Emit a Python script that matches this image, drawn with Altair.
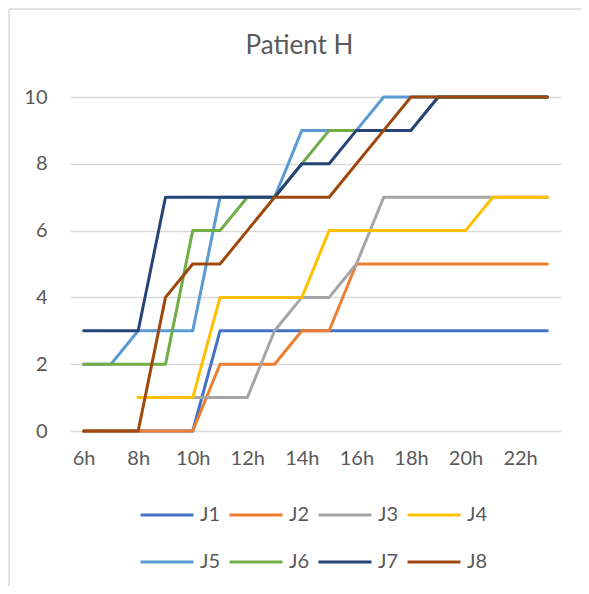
import altair as alt
import pandas as pd

hours = list(range(6, 24))
series_names = ["J1", "J2", "J3", "J4", "J5", "J6", "J7", "J8"]
J1 = [0, 0, 0, 0, 0, 3, 3, 3, 3, 3, 3, 3, 3, 3, 3, 3, 3, 3]
J2 = [0, 0, 0, 0, 0, 2, 2, 2, 3, 3, 5, 5, 5, 5, 5, 5, 5, 5]
J3 = [None, None, None, None, 1, 1, 1, 3, 4, 4, 5, 7, 7, 7, 7, 7, 7, 7]
J4 = [None, None, 1, 1, 1, 4, 4, 4, 4, 6, 6, 6, 6, 6, 6, 7, 7, 7]
J5 = [2, 2, 3, 3, 3, 7, 7, 7, 9, 9, 9, 10, 10, 10, 10, 10, 10, 10]
J6 = [2, 2, 2, 2, 6, 6, 7, 7, 8, 9, 9, 9, 9, 10, 10, 10, 10, 10]
J7 = [3, 3, 3, 7, 7, 7, 7, 7, 8, 8, 9, 9, 9, 10, 10, 10, 10, 10]
J8 = [0, 0, 0, 4, 5, 5, 6, 7, 7, 7, 8, 9, 10, 10, 10, 10, 10, 10]
colors = ["#4472C4", "#ED7D31", "#A5A5A5", "#FFC000",
          "#5B9BD5", "#70AD47", "#264478", "#9E480E"]
x_ticks = [6, 8, 10, 12, 14, 16, 18, 20, 22]
y_ticks = [0, 2, 4, 6, 8, 10]

all_series = [J1, J2, J3, J4, J5, J6, J7, J8]
rows = []
for order, (name, vals) in enumerate(zip(series_names, all_series)):
    for h, v in zip(hours, vals):
        if v is not None:
            rows.append({"hour": h, "value": v, "series": name, "ord": order})
df = pd.DataFrame(rows)

FONT = "Lato"
GREY = "#595959"

lines = alt.Chart(df).mark_line(strokeWidth=3, strokeCap="round", strokeJoin="round").encode(
    x=alt.X("hour:Q",
            scale=alt.Scale(domain=[5.5, 23.5], nice=False, zero=False),
            axis=alt.Axis(values=x_ticks, labelExpr="datum.value + 'h'", title=None,
                          grid=False, domain=False, ticks=False, labelPadding=17,
                          labelFontSize=20, labelFont=FONT, labelColor=GREY)),
    y=alt.Y("value:Q",
            scale=alt.Scale(domain=[0, 10], nice=False),
            axis=alt.Axis(values=y_ticks, title=None, domain=False, ticks=False,
                          grid=True, gridColor="#D9D9D9", gridWidth=1.5,
                          labelPadding=23, labelFontSize=20, labelFont=FONT,
                          labelColor=GREY)),
    color=alt.Color("series:N",
                    scale=alt.Scale(domain=series_names, range=colors),
                    legend=alt.Legend(orient="none", legendX=69, legendY=408,
                                      columns=4, direction="horizontal", title=None,
                                      symbolType="stroke", symbolSize=2809,
                                      symbolStrokeWidth=3, clipHeight=20,
                                      rowPadding=27, columnPadding=7, labelOffset=5,
                                      labelFontSize=20, labelFont=FONT,
                                      labelColor=GREY, padding=0)),
    order=alt.Order("ord:Q"),
    detail="series:N",
)

one = pd.DataFrame({"k": [0]})
border_top = alt.Chart(one).mark_rule(color="#D9D9D9", strokeWidth=1.5).encode(
    x=alt.value(-61), x2=alt.value(700), y=alt.value(-88)
)
border_left = alt.Chart(one).mark_rule(color="#D9D9D9", strokeWidth=1.5).encode(
    x=alt.value(-61), y=alt.value(-88), y2=alt.value(700)
)

chart = alt.layer(border_top, border_left, lines).properties(
    width=491, height=334,
    title=alt.TitleParams("Patient H", fontSize=26, font=FONT, fontWeight="normal",
                          color=GREY, anchor="middle", frame="group", dx=-16,
                          offset=-77, baseline="bottom"),
    autosize=alt.AutoSizeParams(type="none"),
    padding={"left": 62, "top": 89, "right": 20, "bottom": 155},
).configure_view(stroke=None)

chart.save("out.html", embed_options={"renderer": "svg", "actions": False})
